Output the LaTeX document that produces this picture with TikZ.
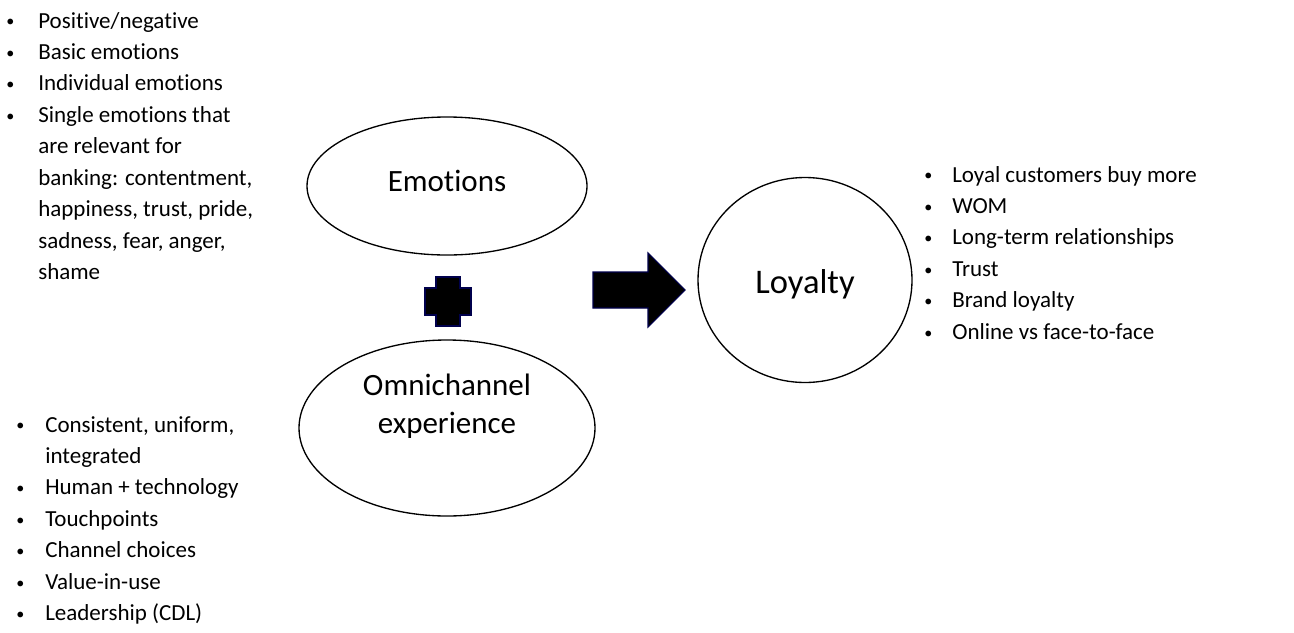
\documentclass[tikz,border=0pt]{standalone}
\usepackage{fontspec}
\setmainfont{Carlito}[Ligatures=CommonOff]
\usetikzlibrary{shapes.geometric}
\newcommand{\bul}[1]{\makebox[#1][c]{\raisebox{0.1ex}{\scalebox{0.7}{\textbullet}}}}

\begin{document}
\begin{tikzpicture}[x=0.75pt, y=-0.75pt,
    oval/.style={draw, line width=1pt, ellipse, inner sep=0pt},
    blk/.style={fill=black, draw=blue!30!black, line width=0.8pt},
    lst/.style={anchor=base west, inner sep=0pt, font=\fontsize{17.25}{23.6}\selectfont},
    lbl/.style={inner sep=0pt, align=center, font=\fontsize{23.25}{28.5}\selectfont}]
        \useasboundingbox (0,0) rectangle (1294,632);

        % the three ovals
        \node [oval, minimum width=210pt, minimum height=103.5pt] (emo) at (447,186) {};
        \node [oval, minimum width=222pt, minimum height=132pt] (omni) at (447,428) {};
        \node [oval, minimum width=160.5pt, minimum height=153.75pt] (loy) at (805,280) {};

        \node [lbl, anchor=base] (emotxt) at (emo.center |- 0,191) {Emotions};
        \node [lbl] (omnitxt) at (447,406) {Omnichannel\\experience};
        \node [lbl, anchor=base, font=\fontsize{25.9}{31}\selectfont] (loytxt) at (loy.center |- 0,293) {Loyalty};

        % plus and block arrow
        \draw [blk] (436,277) -- (460,277) -- (460,288) -- (471,288) -- (471,315) -- (460,315)
          -- (460,326) -- (436,326) -- (436,315) -- (425,315) -- (425,288) -- (436,288) -- cycle;
        \draw [blk] (593,272) -- (648,272) -- (648,253) -- (685,290) -- (648,327) -- (648,308)
          -- (593,308) -- cycle;

        % bullet lists
        \node [lst] (emolist) at (-18,28) {\begin{tabular}[t]{@{}l@{}l@{}}
          \bul{42pt} & Positive/negative\\
          \bul{42pt} & Basic emotions\\
          \bul{42pt} & Individual emotions\\
          \bul{42pt} & Single emotions that\\
                     & are relevant for\\
                     & banking: contentment,\\
                     & happiness, trust, pride,\\
                     & sadness, fear, anger,\\
                     & shame
        \end{tabular}};

        \node [lst] (omnilist) at (-5,432) {\begin{tabular}[t]{@{}l@{}l@{}}
          \bul{37.5pt} & Consistent, uniform,\\
                       & integrated\\
          \bul{37.5pt} & Human + technology\\
          \bul{37.5pt} & Touchpoints\\
          \bul{37.5pt} & Channel choices\\
          \bul{37.5pt} & Value-in-use\\
          \bul{37.5pt} & Leadership (CDL)
        \end{tabular}};

        \node [lst] (loylist) at (904,182) {\begin{tabular}[t]{@{}l@{}l@{}}
          \bul{36pt} & Loyal customers buy more\\
          \bul{36pt} & WOM\\
          \bul{36pt} & Long-term relationships\\
          \bul{36pt} & Trust\\
          \bul{36pt} & Brand loyalty\\
          \bul{36pt} & Online vs face-to-face
        \end{tabular}};
\end{tikzpicture}
\end{document}
